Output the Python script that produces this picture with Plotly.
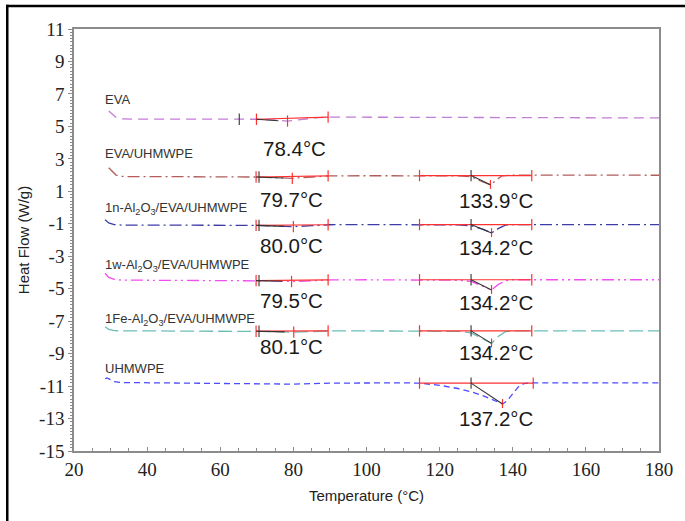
import plotly.graph_objects as go

# ---------------- data ----------------
series_names = ["EVA", "EVA/UHMWPE", "1n-Al<sub>2</sub>O<sub>3</sub>/EVA/UHMWPE",
                "1w-Al<sub>2</sub>O<sub>3</sub>/EVA/UHMWPE", "1Fe-Al<sub>2</sub>O<sub>3</sub>/EVA/UHMWPE", "UHMWPE"]

eva_T = [29.5, 30.5, 31.5, 33, 36, 45, 55, 65, 70, 74, 78.4, 82, 86, 90, 100, 120, 140, 160, 180]
eva_Q = [5.95, 5.75, 5.55, 5.47, 5.45, 5.45, 5.45, 5.45, 5.44, 5.40, 5.33, 5.42, 5.52, 5.57, 5.56, 5.55, 5.54, 5.53, 5.52]

evau_T = [29.5, 30.5, 31.5, 33, 36, 50, 65, 70, 75, 79.7, 85, 90, 100, 115, 120, 125, 128.6, 131, 133.9, 135.5, 137, 140, 145, 160, 180]
evau_Q = [2.45, 2.20, 2.00, 1.92, 1.90, 1.90, 1.90, 1.88, 1.84, 1.80, 1.88, 1.95, 1.96, 1.97, 1.97, 1.95, 1.90, 1.65, 1.40, 1.70, 1.95, 2.00, 2.00, 2.00, 1.99]

comp_T = [28.5, 29.5, 31, 33, 40, 60, 70, 75, 80, 85, 90, 100, 115, 125, 128.6, 132, 134.2, 136, 138, 140, 145, 160, 180]
n_Q = [-0.75, -0.95, -1.05, -1.08, -1.08, -1.08, -1.10, -1.13, -1.18, -1.12, -1.06, -1.05, -1.05, -1.07, -1.12, -1.35, -1.57, -1.30, -1.08, -1.05, -1.05, -1.05, -1.05]
w_Q = [-4.05, -4.30, -4.42, -4.47, -4.48, -4.48, -4.50, -4.52, -4.56, -4.52, -4.46, -4.45, -4.45, -4.48, -4.55, -4.85, -5.08, -4.75, -4.50, -4.45, -4.45, -4.45, -4.45]
fe_Q = [-7.35, -7.50, -7.58, -7.60, -7.60, -7.60, -7.62, -7.64, -7.68, -7.64, -7.60, -7.60, -7.60, -7.63, -7.72, -8.10, -8.37, -7.95, -7.65, -7.60, -7.60, -7.60, -7.60]

uh_T = [28.5, 29, 30, 31, 33, 40, 50, 60, 70, 80, 90, 100, 110, 114.5, 120, 125, 128.6, 132, 135, 137.2, 138.5, 140, 141.5, 143, 145, 150, 160, 170, 180]
uh_Q = [-10.55, -10.50, -10.60, -10.72, -10.78, -10.80, -10.82, -10.85, -10.85, -10.88, -10.82, -10.80, -10.80, -10.82, -10.95, -11.15, -11.35, -11.60, -11.90, -12.10, -11.90, -11.45, -11.05, -10.85, -10.80, -10.80, -10.80, -10.80, -10.80]

# transition analysis (onset/peak/limits)
low_peak_T = [78.4, 79.7, 80.0, 79.5, 80.1]
low_peak_Q = [5.33, 1.80, -1.18, -4.56, -7.68]
low_start_T = [69.9, 69.8, 69.8, 69.8, 69.8]
low_onset_T = [65.2, 70.6, 70.6, 70.6, 70.6]
low_end_T = [89.5, 89.5, 89.5, 89.5, 89.5]
low_start_Q = [5.44, 1.88, -1.10, -4.50, -7.62]
low_end_Q = [5.57, 1.95, -1.06, -4.46, -7.60]

high_peak_T = [133.9, 134.2, 134.2, 134.2, 137.2]
high_peak_Q = [1.40, -1.57, -5.08, -8.37, -12.10]
high_start_T = [114.5, 114.5, 114.5, 114.5, 114.5]
high_onset_T = [128.6, 128.6, 128.6, 128.6, 128.6]
high_end_T = [145.2, 145.2, 145.2, 145.2, 145.6]
high_base_Q = [1.97, -1.05, -4.45, -7.60, -10.82]

low_labels = ["78.4°C", "79.7°C", "80.0°C", "79.5°C", "80.1°C"]
low_label_pos = [(80.2, 3.64), (79.4, 0.50), (79.4, -2.31), (79.4, -5.70), (79.4, -8.56)]
high_labels = ["133.9°C", "134.2°C", "134.2°C", "134.2°C", "137.2°C"]
high_label_pos = [(135.3, 0.43), (135.3, -2.46), (135.3, -5.88), (135.3, -8.96), (135.3, -12.97)]

name_pos = [(27.9, 6.63), (27.9, 3.30), (27.9, -0.03), (27.9, -3.54), (27.9, -6.87), (27.9, -9.89)]

x_ticks = [20, 40, 60, 80, 100, 120, 140, 160, 180]
y_ticks = [11, 9, 7, 5, 3, 1, -1, -3, -5, -7, -9, -11, -13, -15]
y_ticktext = ["11", "9", "7", "5", "3", "1", "-1", "-3", "-5", "-7", "-9", "-11", "-13", "-15"]

# ---------------- figure ----------------
colors = ["#c27dd4", "#b25c5c", "#3d3da6", "#f24cf2", "#6cbdb5", "#4b4bff"]
dashes = ["10px,6px", "12px,4px,2px,4px", "12px,4px,2px,4px", "12px,4px,2px,4px,2px,4px", "14px,5px", "6px,4px"]
curves = [(eva_T, eva_Q), (evau_T, evau_Q), (comp_T, n_Q), (comp_T, w_Q), (comp_T, fe_Q), (uh_T, uh_Q)]

fig = go.Figure()
for (t, q), c, d in zip(curves, colors, dashes):
    fig.add_trace(go.Scatter(x=t, y=q, mode="lines", line=dict(color=c, width=1.3, dash=d),
                             hoverinfo="skip", showlegend=False))

TICK = 0.35
red_x, red_y, blk_x, blk_y = [], [], [], []
for i in range(5):
    # low-temperature transition
    red_x += [low_start_T[i], low_end_T[i], None]
    red_y += [low_start_Q[i], low_end_Q[i], None]
    for tx, ty in [(low_start_T[i], low_start_Q[i]), (low_end_T[i], low_end_Q[i]), (low_peak_T[i], low_peak_Q[i])]:
        red_x += [tx, tx, None]
        red_y += [ty - TICK, ty + TICK, None]
    blk_x += [low_onset_T[i], low_onset_T[i], None, low_start_T[i], low_peak_T[i] - 2.5, None]
    blk_y += [low_start_Q[i] - TICK, low_start_Q[i] + TICK, None, low_start_Q[i], low_peak_Q[i] + 0.02, None]
for j in range(5):
    # high-temperature (UHMWPE melting) transition
    b = high_base_Q[j]
    red_x += [high_start_T[j], high_end_T[j], None]
    red_y += [b, b, None]
    for tx in [high_start_T[j], high_end_T[j]]:
        red_x += [tx, tx, None]
        red_y += [b - TICK, b + TICK, None]
    red_x += [high_peak_T[j], high_peak_T[j], None]
    red_y += [high_peak_Q[j] - 0.25, high_peak_Q[j] + 0.3, None]
    blk_x += [high_onset_T[j], high_onset_T[j], None, high_onset_T[j], high_peak_T[j], None]
    blk_y += [b - TICK, b + TICK, None, b, high_peak_Q[j], None]

fig.add_trace(go.Scatter(x=red_x, y=red_y, mode="lines", line=dict(color="#ff3030", width=1.2),
                         hoverinfo="skip", showlegend=False, connectgaps=False))
fig.add_trace(go.Scatter(x=blk_x, y=blk_y, mode="lines", line=dict(color="#333333", width=1.1),
                         hoverinfo="skip", showlegend=False, connectgaps=False))

# annotations
for (x, y), s in zip(low_label_pos + high_label_pos, low_labels + high_labels):
    fig.add_annotation(x=x, y=y, text=s, showarrow=False, xanchor="center", yanchor="middle",
                       font=dict(family="Liberation Sans, Arial", size=20.5, color="#1a1a1a"))
for (x, y), s in zip(name_pos, series_names):
    fig.add_annotation(x=x, y=y, text=s, showarrow=False, xanchor="left", yanchor="middle",
                       font=dict(family="Liberation Sans, Arial", size=13, color="#333333"))

axis_color = "#8c8c8c"
fig.update_xaxes(range=[20, 180], tickvals=x_ticks, ticks="inside", ticklen=4, tickcolor=axis_color,
                 showline=True, linecolor=axis_color, linewidth=1.5, mirror=True, showgrid=False, zeroline=False,
                 minor=dict(dtick=5, ticks="inside", ticklen=3, tickcolor=axis_color),
                 tickfont=dict(family="Liberation Serif, Times New Roman", size=19, color="#222222"),
                 title=dict(text="Temperature (°C)", standoff=12,
                            font=dict(family="Liberation Sans, Arial", size=15, color="#222222")))
fig.update_yaxes(range=[-15, 11], tickvals=y_ticks, ticktext=y_ticktext, ticks="outside", ticklen=4,
                 tickcolor=axis_color,
                 showline=True, linecolor=axis_color, linewidth=1.5, mirror=True, showgrid=False, zeroline=False,
                 minor=dict(dtick=0.2, ticks="outside", ticklen=2, tickcolor=axis_color),
                 tickfont=dict(family="Liberation Serif, Times New Roman", size=19, color="#222222"),
                 title=dict(text="Heat Flow (W/g)", standoff=6,
                            font=dict(family="Liberation Sans, Arial", size=15, color="#222222")))

# outer black frame (left and top edges visible in the reference)
fig.add_shape(type="line", xref="paper", yref="paper", x0=-0.1141, x1=-0.1141, y0=-0.25, y1=1.0575,
              line=dict(color="black", width=2.5), layer="above")
fig.add_shape(type="line", xref="paper", yref="paper", x0=-0.1162, x1=1.06, y0=1.0545, y1=1.0545,
              line=dict(color="black", width=2.5), layer="above")

fig.update_layout(width=685, height=521, margin=dict(l=74, r=24, t=29, b=70),
                  paper_bgcolor="white", plot_bgcolor="white", showlegend=False)

fig.write_html("out.html", config={"displayModeBar": False},
               post_script="document.body.style.margin='0px';document.body.style.overflow='hidden';")
